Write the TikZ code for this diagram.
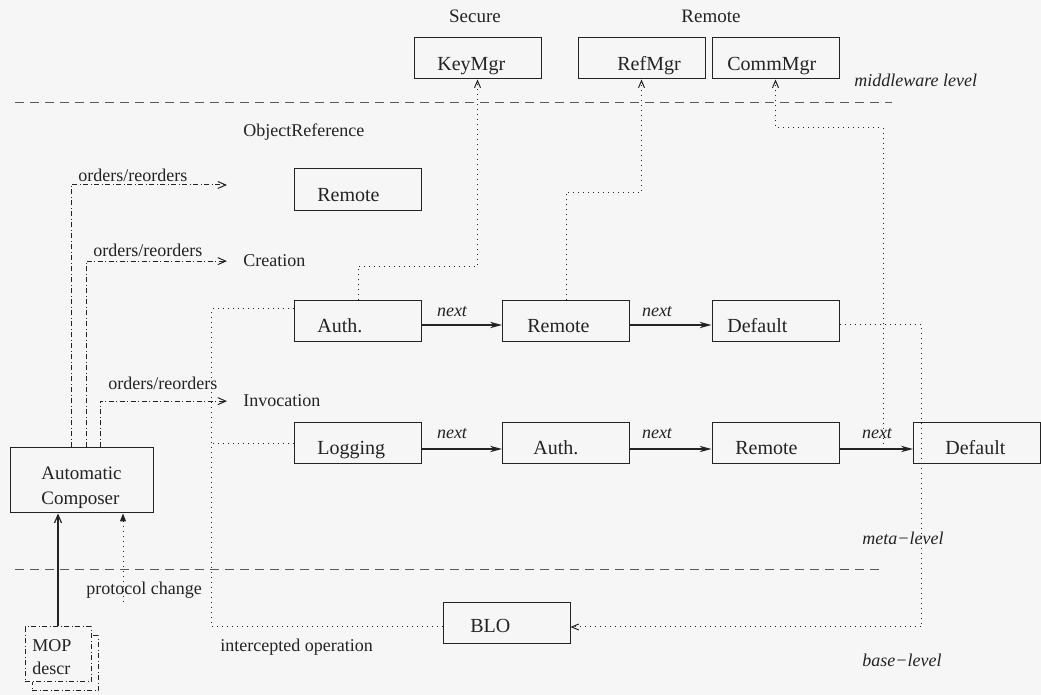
\documentclass[tikz,border=0pt]{standalone}
\usepackage{fontspec}
\setmainfont{Liberation Serif}
\newfontfamily\termsfont{Liberation Serif}
\usetikzlibrary{arrows.meta}
\definecolor{paper}{RGB}{246,246,246}
\definecolor{ink}{RGB}{35,35,35}
\begin{document}
\begin{tikzpicture}[x=0.5pt,y=-0.5pt,
  every node/.style={text=ink, inner sep=0pt},
  box/.style={draw=ink, line width=0.5pt, minimum width=63.5pt, minimum height=20.5pt, inner sep=0pt},
  boxtext/.style={anchor=base west, font=\termsfont\fontsize{10}{12}\selectfont},
  lbl/.style={anchor=base west, font=\termsfont\fontsize{9}{11}\selectfont},
  lblc/.style={anchor=base, font=\termsfont\fontsize{9.5}{11}\selectfont},
  ital/.style={anchor=base west, font=\termsfont\fontsize{9}{11}\selectfont\itshape},
  nextlbl/.style={anchor=base, font=\termsfont\fontsize{9}{11}\selectfont\itshape},
  level/.style={draw=ink!75, line width=0.5pt, dash pattern=on 4.5pt off 3pt},
  link/.style={draw=ink, line width=0.5pt, dotted},
  order/.style={draw=ink, line width=0.5pt, dash pattern=on 2.5pt off 1.3pt on 0.4pt off 1.3pt,
    -{Straight Barb[length=4pt,width=3.5pt]}},
  nextarrow/.style={draw=ink, line width=0.6pt, -{Stealth[length=6pt,width=3.2pt]}},
  up/.style={-{Straight Barb[length=3.5pt,width=3pt]}},
]
% canvas
\fill[paper] (0,0) rectangle (1041,695);
\useasboundingbox (0,0) rectangle (1041,695);

% level separators
\coordinate (mwL) at (15,103);  \coordinate (mwR) at (892,103);
\coordinate (blL) at (15,570);  \coordinate (blR) at (883,570);
\draw[level] (mwL) -- (mwR);
\draw[level] (blL) -- (blR);

% middleware services
\node[lblc] (secure) at (475,23) {Secure};
\node[lblc] (remotesvc) at (711,23) {Remote};
\node[box] (keymgr) at (477.5,58.5) {};
\node[box] (refmgr) at (641.5,58.5) {};
\node[box] (commmgr) at (775.5,58.5) {};
\node[boxtext] (tkeymgr) at (437,71) {KeyMgr};
\node[boxtext] (trefmgr) at (617,71) {RefMgr};
\node[boxtext] (tcommmgr) at (727,71) {CommMgr};
\node[ital] (mwlevel) at (854,87) {middleware level};

% meta-level protocols
\node[lbl] (objref) at (243,137) {ObjectReference};
\node[lbl] (creation) at (243,267) {Creation};
\node[lbl] (invocation) at (243,407) {Invocation};

\node[box, minimum height=21pt] (remote0) at (358,190) {};
\node[boxtext] (tremote0) at (317,202) {Remote};

\node[box] (auth1) at (358,321.5) {};
\node[box] (remote1) at (566,321.5) {};
\node[box] (default1) at (775.5,321.5) {};
\node[boxtext] (tauth1) at (317,333) {Auth.};
\node[boxtext] (tremote1) at (527,333) {Remote};
\node[boxtext] (tdefault1) at (727,333) {Default};

\node[box] (logging) at (358,443.5) {};
\node[box] (auth2) at (566,443.5) {};
\node[box] (remote2) at (775.5,443.5) {};
\node[box] (default2) at (977,443.5) {};
\node[boxtext] (tlogging) at (317,455) {Logging};
\node[boxtext] (tauth2) at (533,455) {Auth.};
\node[boxtext] (tremote2) at (735,455) {Remote};
\node[boxtext] (tdefault2) at (945,455) {Default};

% next links
\coordinate (row1) at (0,325);
\coordinate (row2) at (0,449);
\draw[nextarrow] (auth1.east |- row1) -- (remote1.west |- row1);
\draw[nextarrow] (remote1.east |- row1) -- (default1.west |- row1);
\draw[nextarrow] (logging.east |- row2) -- (auth2.west |- row2);
\draw[nextarrow] (auth2.east |- row2) -- (remote2.west |- row2);
\draw[nextarrow] (remote2.east |- row2) -- (default2.west |- row2);
\node[nextlbl] (n1) at (452,317) {next};
\node[nextlbl] (n2) at (657,317) {next};
\node[nextlbl] (n3) at (452,439) {next};
\node[nextlbl] (n4) at (657,439) {next};
\node[nextlbl] (n5) at (877,439) {next};

% uses of middleware services
\coordinate (tap) at (883,449);
\draw[link, up] (auth1.north) -- ++(0,-34) -| (keymgr.south);
\draw[link, up] (remote1.north) -- ++(0,-108) -| (refmgr.south);
\draw[link, up] (tap) -- ++(0,-321) -| (commmgr.south);

% base level
\node[box] (blo) at (506.5,623) {};
\node[boxtext] (tblo) at (470,633) {BLO};
\draw[link, up] ([yshift=-1.75pt]default1.east) -- ++(82,0) |- ([yshift=-2pt]blo.east);
\draw[link] ([yshift=-2pt]blo.west) -- ++(-231,0) |- ([yshift=6.25pt]auth1.west);
\draw[link] (logging.west) -- ++(-82,0);

% composer
\node[box, minimum width=71.5pt, minimum height=32.5pt] (composer) at (81.5,480.5) {};
\node[anchor=base west, font=\termsfont\fontsize{9.5}{11}\selectfont] (tcomp1) at (41,480) {Automatic};
\node[anchor=base west, font=\termsfont\fontsize{9.5}{11}\selectfont] (tcomp2) at (41,505) {Composer};

\coordinate (oref) at (227,185);
\draw[order] ([xshift=-5.25pt]composer.north) |- (oref);
\draw[order, shorten >=8pt] ([xshift=2.25pt]composer.north) |- (creation.west);
\draw[order, shorten >=8pt] ([xshift=9.25pt]composer.north) |- (invocation.west);
\node[lbl] (or1) at (78,182) {orders/reorders};
\node[lbl] (or2) at (93,257) {orders/reorders};
\node[lbl] (or3) at (108,390) {orders/reorders};

% MOP description
\node[box, dash pattern=on 2.5pt off 1.3pt on 0.4pt off 1.3pt, fill=paper,
  minimum width=33pt, minimum height=27.5pt] (mopshadow) at (65,663.5) {};
\node[box, dash pattern=on 2.5pt off 1.3pt on 0.4pt off 1.3pt, fill=paper,
  minimum width=33pt, minimum height=27.5pt] (mop) at (58,654.5) {};
\node[lbl] (tmop1) at (32,652) {MOP};
\node[lbl] (tmop2) at (32,675) {descr};
\draw[draw=ink, line width=0.6pt, -{Straight Barb[length=4pt,width=3.5pt]}] (mop.north) -- (composer.south -| mop.north);

\coordinate (pcstart) at (123,602);
\draw[link, -{Triangle[length=4pt,width=3pt]}] (pcstart) -- (composer.south -| pcstart);
\node[lbl] (pc) at (86,595) {protocol change};
\node[lbl] (icpt) at (220,652) {intercepted operation};

\node[ital] (meta) at (862,545) {meta−level};
\node[ital] (base) at (862,667) {base−level};
\end{tikzpicture}
\end{document}
